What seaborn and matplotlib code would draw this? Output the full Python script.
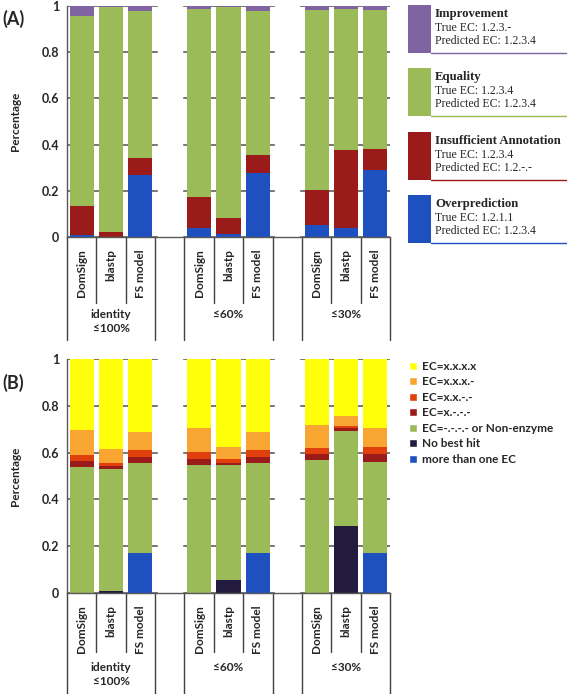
import numpy as np
import pandas as pd
import matplotlib
matplotlib.use("Agg")
import matplotlib.pyplot as plt
import matplotlib.transforms as mtransforms
from matplotlib.patches import Rectangle, Patch
import seaborn as sns

# categories
methods = ["DomSign", "blastp", "FS model"]
groups = ["identity\n≤100%", "≤60%", "≤30%"]

# panel A (bottom to top), bars in order: ≤100% x3, ≤60% x3, ≤30% x3
a_over = [0.010, 0.002, 0.268, 0.038, 0.012, 0.276, 0.051, 0.040, 0.290]
a_insuff = [0.125, 0.018, 0.075, 0.137, 0.072, 0.079, 0.154, 0.335, 0.093]
a_equal = [0.821, 0.975, 0.637, 0.812, 0.912, 0.625, 0.779, 0.612, 0.601]
a_improve = [0.044, 0.005, 0.020, 0.013, 0.004, 0.020, 0.016, 0.013, 0.016]

# panel B (bottom to top)
b_multi = [0.0, 0.0, 0.171, 0.0, 0.0, 0.171, 0.0, 0.0, 0.171]
b_nohit = [0.0, 0.008, 0.0, 0.0, 0.054, 0.0, 0.0, 0.287, 0.0]
b_none = [0.540, 0.523, 0.383, 0.546, 0.493, 0.383, 0.569, 0.407, 0.389]
b_x = [0.026, 0.012, 0.029, 0.028, 0.010, 0.026, 0.025, 0.010, 0.034]
b_xx = [0.025, 0.014, 0.028, 0.029, 0.014, 0.031, 0.025, 0.010, 0.029]
b_xxx = [0.106, 0.057, 0.079, 0.100, 0.052, 0.079, 0.100, 0.043, 0.080]
b_xxxx = [0.303, 0.386, 0.310, 0.297, 0.377, 0.310, 0.281, 0.243, 0.297]

a_names = ["Overprediction", "Insufficient Annotation", "Equality", "Improvement"]
a_colors = ["#1F50C0", "#9B1B1B", "#9BBB59", "#8064A2"]
a_true = ["1.2.1.1", "1.2.3.4", "1.2.3.4", "1.2.3.-"]
a_pred = ["1.2.3.4", "1.2.-.-", "1.2.3.4", "1.2.3.4"]

b_names = ["more than one EC", "No best hit", "EC=-.-.-.- or Non-enzyme",
           "EC=x.-.-.-", "EC=x.x.-.-", "EC=x.x.x.-", "EC=x.x.x.x"]
b_colors = ["#1F50C0", "#231A3F", "#9BBB59", "#9B1B1B", "#DF400C", "#F9A531", "#FFFF0A"]

sns.set_theme(style="white")
plt.rcParams["font.family"] = ["Lato", "DejaVu Sans"]

W, H = 567, 694
fig = plt.figure(figsize=(W / 100, H / 100), dpi=100)

# slot layout: 3 bars, blank, 3 bars, blank, 3 bars
slots = []
labels = []
for gi in range(3):
    for m in methods:
        slots.append(f"{m}_{gi}")
        labels.append(m)
    if gi < 2:
        slots.append(f"gap_{gi}")
        labels.append("")
bar_slots = [s for s in slots if not s.startswith("gap")]
gap_pos = [i for i, s in enumerate(slots) if s.startswith("gap")]


def draw_panel(ax, layers, colors, table_short, table_long, grp_y):
    cum = np.cumsum(np.array(layers), axis=0)
    # draw tallest cumulative first so lower segments sit on top
    for k in range(len(layers) - 1, -1, -1):
        df = pd.DataFrame({"slot": bar_slots, "top": cum[k]})
        sns.barplot(data=df, x="slot", y="top", order=slots, color=colors[k],
                    saturation=1, width=0.82, errorbar=None, linewidth=0, ax=ax)
    ax.bar(gap_pos, [1] * len(gap_pos), width=0.82, color="white", zorder=1.5)
    ax.set_xlim(-0.5, len(slots) - 0.5)
    ax.set_ylim(0, 1)
    ax.set_axisbelow(True)
    ax.yaxis.grid(True, color="#606060", lw=1.2)
    ax.set_yticks([0, 0.2, 0.4, 0.6, 0.8, 1])
    ax.set_yticklabels(["0", "0.2", "0.4", "0.6", "0.8", "1"], fontsize=9, fontweight="bold")
    ax.tick_params(axis="y", direction="inout", length=5, width=1, color="#595959", pad=3)
    ax.set_xticks(range(len(slots)))
    ax.set_xticklabels(labels, rotation=90, fontsize=8.5, fontweight="bold")
    ax.tick_params(axis="x", length=0, pad=9)
    ax.set_xlabel("")
    ax.set_ylabel("Percentage", fontsize=8.5, fontweight="bold")
    ax.yaxis.set_label_coords(-0.142, 0.5)
    for s in ["top", "right"]:
        ax.spines[s].set_visible(False)
    for s in ["left", "bottom"]:
        ax.spines[s].set_color("#595959")
        ax.spines[s].set_linewidth(1)
    trans = mtransforms.blended_transform_factory(ax.transData, ax.transAxes)
    for b in np.arange(-0.5, len(slots)):
        near_gap = any(abs(b - g) == 0.5 for g in gap_pos) or b in (-0.5, len(slots) - 0.5)
        y0 = table_long if near_gap else table_short
        ax.plot([b, b], [0, y0], transform=trans, color="#404040", lw=1, clip_on=False)
    for gi, g in enumerate(groups):
        ax.text(1 + 4 * gi, grp_y, g, transform=trans, ha="center", va="top",
                fontsize=8.5, fontweight="bold", linespacing=1.35)


ax_a = fig.add_axes([67 / W, 1 - 237 / H, 323 / W, 231 / H])
draw_panel(ax_a, [a_over, a_insuff, a_equal, a_improve], a_colors, -0.286, -0.446, -0.312)

ax_b = fig.add_axes([67 / W, 1 - 593 / H, 323 / W, 234 / H])
draw_panel(ax_b, [b_multi, b_nohit, b_none, b_x, b_xx, b_xxx, b_xxxx], b_colors, -0.252, -0.43, -0.295)

fig.text(2 / W, 1 - 19 / H, "(A)", fontsize=13, fontweight="bold", va="center", ha="left")
fig.text(2 / W, 1 - 383 / H, "(B)", fontsize=13, fontweight="bold", va="center", ha="left")

# legend A: tall boxes with underline
lg = fig.add_axes([0, 0, 1, 1], zorder=-1)
lg.set_xlim(0, W)
lg.set_ylim(H, 0)
lg.axis("off")
serif = ["Liberation Serif", "DejaVu Serif"]
for i, k in enumerate(range(3, -1, -1)):
    top = 5 + i * 63.3
    lg.add_patch(Rectangle((408, top), 23, 48, color=a_colors[k], lw=0))
    lg.plot([431, W], [top + 48, top + 48], color=a_colors[k], lw=1)
    lg.text(435, top + 9, a_names[k], family=serif, fontsize=9.2, fontweight="bold", va="center")
    lg.text(435, top + 23, "True EC: " + a_true[k], family=serif, fontsize=8.5, va="center")
    lg.text(435, top + 36, "Predicted EC: " + a_pred[k], family=serif, fontsize=8.5, va="center")

# legend B
handles = [Patch(facecolor=c, label=n) for n, c in zip(b_names, b_colors)][::-1]
ax_b.legend(handles=handles, loc="upper left", bbox_to_anchor=(409 / W, 1 - 361 / H),
            bbox_transform=fig.transFigure, frameon=False,
            prop={"size": 8.5, "weight": "bold"}, handlelength=0.65, handleheight=0.65,
            handletextpad=0.45, labelspacing=0.38, borderpad=0, borderaxespad=0)

fig.savefig("out.png", dpi=100)
